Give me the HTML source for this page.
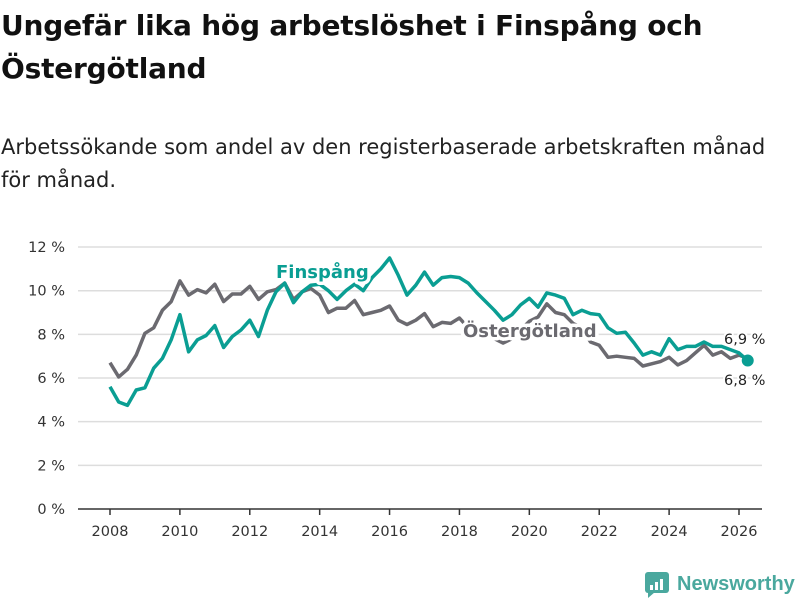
<!DOCTYPE html>
<html><head><meta charset="utf-8"><style>
body{margin:0;background:#fff;font-family:"DejaVu Sans",sans-serif;}
#wrap{position:relative;width:800px;height:600px;overflow:hidden}
h1{position:absolute;left:1px;top:4px;margin:0;font-size:28px;line-height:43px;font-weight:bold;color:#111;width:798px;white-space:nowrap;letter-spacing:-0.2px}
p.sub{position:absolute;left:1px;top:131px;margin:0;font-size:21px;line-height:33px;color:#222;width:798px;white-space:nowrap}
</style></head><body><div id="wrap">
<h1>Ungefär lika hög arbetslöshet i Finspång och<br>Östergötland</h1>
<p class="sub">Arbetssökande som andel av den registerbaserade arbetskraften månad<br>för månad.</p>
<svg id="chart" width="800" height="600" style="position:absolute;left:0;top:0"></svg>
</div>
<script>
const startYear = 2008;
const stepYears = 0.25;
const yTicks = [0,2,4,6,8,10,12];
const xTicks = [2008,2010,2012,2014,2016,2018,2020,2022,2024,2026];
const ostergotland = [6.7,6.05,6.4,7.05,8.05,8.3,9.1,9.5,10.45,9.8,10.05,9.9,10.3,9.5,9.85,9.85,10.2,9.6,9.95,10.05,10.35,9.6,9.95,10.1,9.8,9.0,9.2,9.2,9.55,8.9,9.0,9.1,9.3,8.65,8.45,8.65,8.95,8.35,8.55,8.5,8.75,8.3,8.2,8.0,7.8,7.6,7.8,8.2,8.6,8.8,9.4,9.0,8.9,8.5,8.3,7.65,7.5,6.95,7.0,6.95,6.9,6.55,6.65,6.75,6.95,6.6,6.8,7.15,7.5,7.05,7.2,6.9,7.05,6.9];
const finspang = [5.6,4.9,4.75,5.45,5.55,6.45,6.9,7.75,8.9,7.2,7.75,7.95,8.4,7.4,7.9,8.2,8.65,7.9,9.1,9.95,10.35,9.45,9.95,10.25,10.3,10.0,9.6,10.0,10.3,10.0,10.6,11.0,11.5,10.7,9.8,10.25,10.85,10.25,10.6,10.65,10.6,10.35,9.9,9.5,9.1,8.65,8.9,9.35,9.65,9.25,9.9,9.8,9.65,8.9,9.1,8.95,8.9,8.3,8.05,8.1,7.6,7.05,7.2,7.05,7.8,7.3,7.45,7.45,7.65,7.45,7.45,7.3,7.15,6.8];
const NS="http://www.w3.org/2000/svg";
const svg=document.getElementById('chart');
const x=v=>110+(v-2008)*(629/18);
const y=v=>509-v*21.83;
function mk(t,a){const e=document.createElementNS(NS,t);for(const k in a)e.setAttribute(k,a[k]);svg.appendChild(e);return e;}
yTicks.forEach(t=>{
  const g=mk('line',{x1:78,x2:762,y1:y(t),y2:y(t),stroke:t===0?'#333':'#ddd','stroke-width':1.5});
  
  
  const l=mk('text',{x:65,y:y(t)+5,'text-anchor':'end','font-size':14.5,fill:'#333','font-family':'DejaVu Sans, sans-serif'});
  l.textContent=t+' %';
  
  
});
xTicks.forEach(t=>{
  const tk=mk('line',{x1:x(t),x2:x(t),y1:509,y2:515,stroke:'#333','stroke-width':1.5});
  
  
  const l=mk('text',{x:x(t),y:536,'text-anchor':'middle','font-size':14.5,fill:'#333','font-family':'DejaVu Sans, sans-serif'});
  l.textContent=t;
  
  
});
function line(data,color,name){
  const d=data.map((v,i)=>(i?'L':'M')+x(startYear+i*stepYears).toFixed(1)+','+y(v).toFixed(1)).join('');
  const p=mk('path',{d:d,fill:'none',stroke:color,'stroke-width':3.5,'stroke-linejoin':'round'});
  
  
}
line(ostergotland,'#6b6a70','ostergotland-line');
line(finspang,'#0a9e93','finspang-line');
const n=finspang.length-1;
const dot=mk('circle',{cx:x(startYear+n*stepYears),cy:y(finspang[n]),r:6,fill:'#0a9e93'});


function lab(txt,xx,yy,col,sz,w,name,halo){
  const t=mk('text',{x:xx,y:yy,'font-size':sz,'font-weight':w,fill:col,'font-family':'DejaVu Sans, sans-serif',stroke:'#fff','stroke-width':halo,'paint-order':'stroke','stroke-linejoin':'round'});
  t.textContent=txt;
  
  
}
lab('Finspång',276,278,'#0a9e93',18,'bold','finspang-label',7);
lab('Östergötland',463,337,'#6b6a70',18,'bold','ostergotland-label',7);
lab('6,9 %',724,344,'#222',14.5,'normal','ostergotland-end-value',4);
lab('6,8 %',724,385,'#222',14.5,'normal','finspang-end-value',4);
const logo=mk('rect',{x:645,y:572,width:24,height:21,rx:3,fill:'#4aa89e'});


const tail=mk('path',{d:'M648,592 L648,598 L655,592 Z',fill:'#4aa89e'});


[[650,585,3,5],[655,582,3,8],[660,579,3,11]].forEach(b=>{
  const r=mk('rect',{x:b[0],y:b[1],width:b[2],height:b[3],fill:'#fff'});
  
  
});
const brand=mk('text',{x:677,y:590,'font-size':20,'font-weight':'bold',fill:'#4aa89e','font-family':'Liberation Sans, sans-serif'});
brand.textContent='Newsworthy';


</script></body></html>
